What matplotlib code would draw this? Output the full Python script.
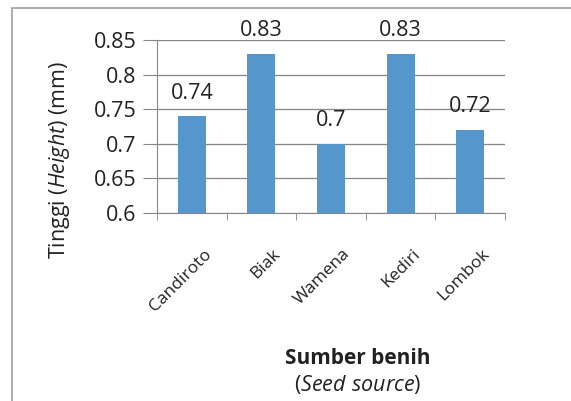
import matplotlib.pyplot as plt
from matplotlib.patches import Rectangle
from matplotlib.transforms import ScaledTranslation

# Data
sources = ['Candiroto', 'Biak', 'Wamena', 'Kediri', 'Lombok']
height = [0.74, 0.83, 0.70, 0.83, 0.72]
y_ticks = [0.6, 0.65, 0.7, 0.75, 0.8, 0.85]

plt.rcParams['font.family'] = ['Open Sans', 'DejaVu Sans']
plt.rcParams['mathtext.fontset'] = 'custom'
plt.rcParams['mathtext.rm'] = 'Open Sans'
plt.rcParams['mathtext.it'] = 'Open Sans:italic'
plt.rcParams['mathtext.bf'] = 'Open Sans:bold'

fig = plt.figure(figsize=(5.71, 4.01), dpi=100)
ax = fig.add_axes([157 / 571, 1 - 213 / 401, 348 / 571, 173 / 401])

# Outer chart border
fig.patches.append(Rectangle((12 / 571, -0.1), 1.1, 1 - 8 / 401 + 0.1,
                             transform=fig.transFigure, fill=False,
                             edgecolor='#a0a0a0', linewidth=1.2))

x = range(len(sources))
ax.bar(x, height, width=0.4, color='#5596cc', zorder=3)

for i, v in enumerate(height):
    ax.annotate(f'{v:g}', (i, v), xytext=(0, 9), textcoords='offset points',
                ha='center', va='bottom', fontsize=15.5, color='#222222')

ax.set_ylim(0.6, 0.85)
ax.set_yticks(y_ticks)
ax.set_yticklabels([f'{t:g}' for t in y_ticks], fontsize=15.5, color='#222222')
ax.set_xlim(-0.5, len(sources) - 0.5)
ax.set_xticks(list(x))
ax.set_xticklabels(sources, rotation=45, ha='right', va='center',
                   rotation_mode='anchor', fontsize=12.5, color='#222222')
ax.set_xticks([i - 0.5 for i in range(len(sources) + 1)], minor=True)
ax.tick_params(axis='x', which='major', length=0, pad=28)
ax.tick_params(axis='x', which='minor', length=5, color='#868686')
ax.tick_params(axis='y', length=10, color='#868686', pad=5)

# shift category labels to the right, like the original
shift = ScaledTranslation(17 / 100, 0, fig.dpi_scale_trans)
for lab in ax.get_xticklabels():
    lab.set_transform(lab.get_transform() + shift)

ax.grid(axis='y', color='#868686', linewidth=0.9, zorder=0)
for s in ['top', 'right']:
    ax.spines[s].set_visible(False)
ax.spines['left'].set_color('#868686')
ax.spines['bottom'].set_color('#868686')

ax.set_ylabel(r'Tinggi ($\mathit{Height}$) (mm)', fontsize=15.5,
              va='center', color='#222222')
ax.yaxis.set_label_coords((60 - 157) / 348, (213 - 160) / 173)
fig.text(358 / 571, 1 - 358 / 401, 'Sumber benih', ha='center', va='center',
         fontsize=15, fontweight='bold', color='#222222')
fig.text(358 / 571, 1 - 385 / 401, r'($\mathit{Seed\ source}$)', ha='center',
         va='center', fontsize=15.5, color='#222222')

plt.savefig('out.png', dpi=100)
